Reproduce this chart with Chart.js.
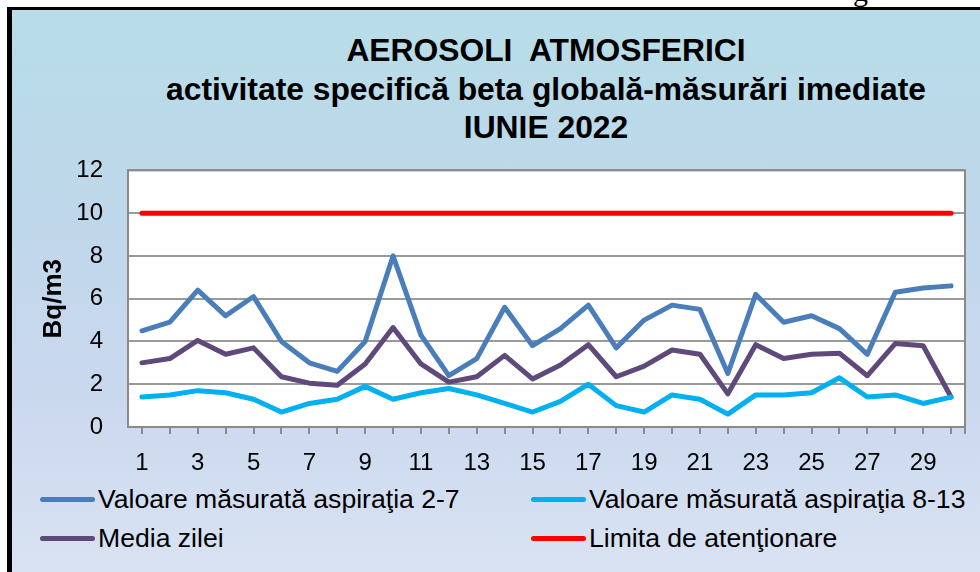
<!DOCTYPE html>
<html>
<head>
<meta charset="utf-8">
<script src="https://cdn.jsdelivr.net/npm/chart.js@4.4.1/dist/chart.umd.min.js"></script>
<style>
  body { margin: 0; width: 980px; height: 572px; overflow: hidden; background: #fff; font-family: "Liberation Sans", Arial, sans-serif; position: relative; }
  #stray { position: absolute; left: 853px; top: -24px; font-family: "Liberation Serif", serif; font-size: 30px; line-height: 30px; color: #000; }
  #frame { position: absolute; left: 7px; top: 7px; width: 990px; height: 590px; border-left: 5px solid #000; border-top: 3px solid #000;
           background: linear-gradient(to bottom, #b7dde8 0%, #bfd7ea 35%, #cad8ee 65%, #dbe4f3 100%); }
  #title { position: absolute; left: 146px; top: 31px; width: 800px; text-align: center; font-weight: bold; font-size: 31.8px; line-height: 38.5px; color: #000; }
  #chartBox { position: absolute; left: 12px; top: 131px; }
  #legend { position: absolute; left: 0; top: 0; width: 980px; }
  .lg-item { position: absolute; display: flex; align-items: center; font-size: 26.6px; color: #000; white-space: nowrap; height: 30px; }
  .lg-line { width: 55px; height: 5px; border-radius: 3px; margin-right: 3px; }
</style>
</head>
<body>
<div id="stray">g</div>
<div id="frame"></div>
<div id="title">AEROSOLI&nbsp; ATMOSFERICI<br>activitate specifică beta globală-măsurări imediate<br>IUNIE 2022</div>
<div id="chartBox"><canvas id="aerosolChart" width="968" height="341"></canvas></div>
<div id="legend"></div>

<script>
const days = ['1','2','3','4','5','6','7','8','9','10','11','12','13','14','15','16','17','18','19','20','21','22','23','24','25','26','27','28','29','30'];
const aspiratie27 = [4.5, 4.9, 6.4, 5.2, 6.1, 4.0, 3.0, 2.6, 4.0, 8.0, 4.3, 2.4, 3.2, 5.6, 3.8, 4.6, 5.7, 3.7, 5.0, 5.7, 5.5, 2.5, 6.2, 4.9, 5.2, 4.6, 3.4, 6.3, 6.5, 6.6];
const aspiratie813 = [1.4, 1.5, 1.7, 1.6, 1.3, 0.7, 1.1, 1.3, 1.9, 1.3, 1.6, 1.8, 1.5, 1.1, 0.7, 1.2, 2.0, 1.0, 0.7, 1.5, 1.3, 0.6, 1.5, 1.5, 1.6, 2.3, 1.4, 1.5, 1.1, 1.4];
const mediaZilei = [3.0, 3.2, 4.05, 3.4, 3.7, 2.35, 2.05, 1.95, 2.95, 4.65, 2.95, 2.1, 2.35, 3.35, 2.25, 2.9, 3.85, 2.35, 2.85, 3.6, 3.4, 1.55, 3.85, 3.2, 3.4, 3.45, 2.4, 3.9, 3.8, 1.4];
const limita = [10, 10, 10, 10, 10, 10, 10, 10, 10, 10, 10, 10, 10, 10, 10, 10, 10, 10, 10, 10, 10, 10, 10, 10, 10, 10, 10, 10, 10, 10];
const yTicks = [0, 2, 4, 6, 8, 10, 12];

const seriesNames = ['Valoare măsurată aspiraţia 2-7', 'Valoare măsurată aspiraţia 8-13', 'Media zilei', 'Limita de atenţionare'];
const seriesColors = ['#4a7ebb', '#00b0f0', '#5f497a', '#ff0000'];
const seriesData = [aspiratie27, aspiratie813, mediaZilei, limita];

// white plot area + grey frame around it
const plotFrame = {
    id: 'plotFrame',
    beforeDraw(chart) {
        const a = chart.chartArea, ctx = chart.ctx;
        ctx.save();
        ctx.fillStyle = '#ffffff';
        ctx.fillRect(a.left, a.top, a.right - a.left, a.bottom - a.top);
        ctx.restore();
    },
    beforeDatasetsDraw(chart) {
        const a = chart.chartArea, ctx = chart.ctx;
        ctx.save();
        ctx.strokeStyle = '#8a8a8a';
        ctx.lineWidth = 2;
        ctx.strokeRect(a.left, a.top, a.right - a.left, a.bottom - a.top);
        ctx.beginPath();
        ctx.moveTo(a.right, a.bottom);
        ctx.lineTo(a.right, a.bottom + 7);
        ctx.stroke();
        ctx.restore();
    }
};

const ctx = document.getElementById('aerosolChart').getContext('2d');
const chart = new Chart(ctx, {
    type: 'line',
    data: {
        labels: days,
        datasets: seriesData.map((d, i) => ({
            label: seriesNames[i],
            data: d,
            borderColor: seriesColors[i],
            backgroundColor: seriesColors[i],
            borderWidth: 5,
            pointRadius: 0,
            tension: 0,
            borderCapStyle: 'round',
            borderJoinStyle: 'round',
            order: i === 3 ? 0 : 1
        }))
    },
    options: {
        responsive: false,
        devicePixelRatio: 1,
        animation: false,
        layout: { padding: { top: 18, right: 15, left: 0, bottom: 0 } },
        plugins: { legend: { display: false }, title: { display: false }, tooltip: { enabled: false } },
        scales: {
            x: {
                offset: true,
                afterFit: (s) => { s.height = 45; },
                grid: { offset: false, drawOnChartArea: false, drawTicks: true, tickLength: 7, color: '#8a8a8a', lineWidth: 2 },
                border: { display: true, color: '#8a8a8a', width: 2 },
                ticks: {
                    autoSkip: false, maxRotation: 0, padding: 15,
                    color: '#000', font: { family: 'Liberation Sans', size: 24 },
                    callback: (v, i) => (i % 2 === 0 ? days[i] : '')
                }
            },
            y: {
                min: 0, max: 12,
                afterFit: (s) => { s.width = 116; },
                afterBuildTicks: (s) => { s.ticks = yTicks.map(v => ({ value: v })); },
                grid: { drawTicks: false, color: '#9a9a9a', lineWidth: 2 },
                border: { display: true, color: '#8a8a8a', width: 2 },
                ticks: { padding: 25, color: '#000', font: { family: 'Liberation Sans', size: 24 } },
                title: { display: true, text: 'Bq/m3', color: '#000', padding: { top: 26, bottom: 0 }, font: { family: 'Liberation Sans', size: 26, weight: 'bold' } }
            }
        }
    },
    plugins: [plotFrame]
});

// two-column legend under the chart, built from the datasets
const legendPos = [[40, 484], [531, 484], [40, 523], [531, 523]];
const legendBox = document.getElementById('legend');
chart.data.datasets.forEach((ds, i) => {
    const item = document.createElement('div');
    item.className = 'lg-item';
    item.style.left = legendPos[i][0] + 'px';
    item.style.top = legendPos[i][1] + 'px';
    const line = document.createElement('span');
    line.className = 'lg-line';
    line.style.background = ds.borderColor;
    const txt = document.createElement('span');
    txt.textContent = ds.label;
    item.append(line, txt);
    legendBox.appendChild(item);
});
</script>
</body>
</html>
